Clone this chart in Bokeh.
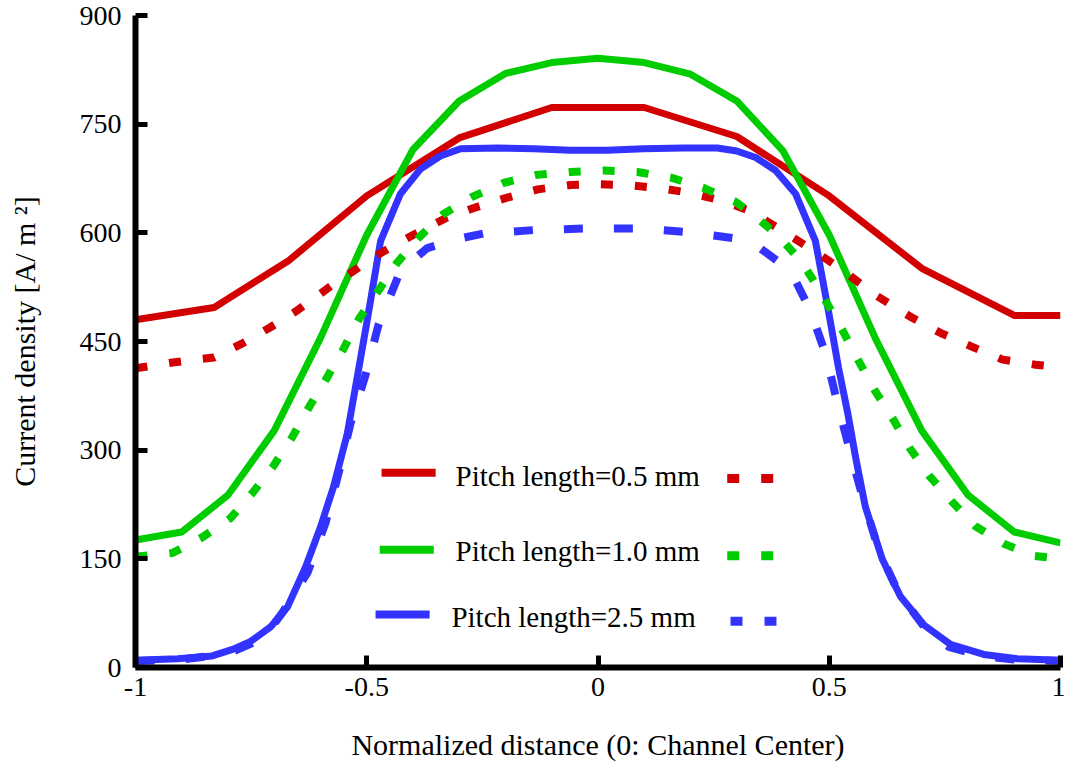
from bokeh.plotting import figure
from bokeh.models import Range1d, FixedTicker, CustomJSTickFormatter
from bokeh.core.properties import value
from bokeh.embed import file_html
from bokeh.resources import INLINE

# ---------------- data ----------------
red_solid_x = [-1.0, -0.83, -0.67, -0.5, -0.3, -0.1, 0.1, 0.3, 0.5, 0.7, 0.9, 1.0]
red_solid_y = [480, 497, 561, 651, 731, 773, 773, 733, 651, 551, 486, 486]

red_dot_x = [-1.0, -0.92, -0.83, -0.77, -0.71, -0.65, -0.57, -0.47, -0.4, -0.33, -0.27,
             -0.2, -0.13, -0.06, 0.0, 0.06, 0.13, 0.2, 0.27, 0.33, 0.4, 0.47, 0.53,
             0.6, 0.676, 0.74, 0.808, 0.875, 0.946, 1.0]
red_dot_y = [413, 421, 428, 447, 469, 493, 530, 572, 597, 620, 634, 648, 660, 666, 667,
             666, 662, 655, 644, 630, 602, 574, 548, 514, 484, 462, 443, 425, 418, 415]

green_solid_x = [-1.0, -0.9, -0.8, -0.7, -0.6, -0.5, -0.4, -0.3, -0.2, -0.1, 0.0,
                 0.1, 0.2, 0.3, 0.4, 0.5, 0.6, 0.7, 0.8, 0.9, 1.0]
green_solid_y = [176, 187, 238, 327, 455, 597, 715, 782, 820, 835, 841,
                 835, 819, 782, 713, 597, 454, 327, 238, 187, 172]

green_dot_x = [-1.0, -0.92, -0.855, -0.795, -0.747, -0.702, -0.661, -0.626, -0.587, -0.55,
               -0.516, -0.475, -0.434, -0.388, -0.334, -0.271, -0.204, -0.133, -0.06, 0.013,
               0.085, 0.159, 0.228, 0.297, 0.33, 0.39, 0.44, 0.48, 0.529, 0.563, 0.598,
               0.637, 0.674, 0.717, 0.764, 0.816, 0.877, 0.944, 1.0]
green_dot_y = [153, 158, 180, 206, 241, 278, 318, 358, 399, 440,
               482, 520, 559, 593, 626, 650, 669, 680, 684, 686,
               684, 676, 662, 643, 628, 596, 560, 520, 465, 424, 383,
               344, 303, 264, 230, 195, 171, 154, 150]

blue_solid_x = [-1.0, -0.909, -0.834, -0.79, -0.751, -0.708, -0.671, -0.632, -0.6, -0.572,
                -0.542, -0.518, -0.498, -0.47, -0.427, -0.384, -0.341, -0.297, -0.217, -0.139,
                -0.06, 0.02, 0.098, 0.185, 0.258, 0.3, 0.341, 0.384, 0.427, 0.47, 0.498,
                0.52, 0.54, 0.557, 0.578, 0.615, 0.654, 0.704, 0.762, 0.834, 0.907, 1.0]
blue_solid_y = [10, 12, 16, 25, 36, 56, 84, 139, 194, 249,
                323, 410, 483, 589, 654, 688, 706, 716, 717, 716,
                714, 714, 716, 717, 717, 713, 704, 686, 654, 589, 493,
                414, 351, 290, 222, 149, 98, 59, 32, 18, 12, 10]

blue_dash_x = [-1.0, -0.9, -0.8, -0.75, -0.71, -0.682, -0.628, -0.589, -0.561, -0.535,
               -0.503, -0.475, -0.427, -0.369, -0.3, -0.248, -0.135, -0.023, 0.085, 0.196,
               0.3, 0.35, 0.416, 0.459, 0.492, 0.518, 0.546, 0.574, 0.607, 0.65, 0.715,
               0.76, 0.83, 0.9, 1.0]
blue_dash_y = [9, 11, 19, 33, 52, 76, 131, 200, 268, 337,
               403, 472, 548, 579, 592, 599, 604, 606, 606, 601,
               592, 579, 548, 493, 433, 364, 296, 231, 162, 103, 48,
               28, 16, 11, 9]

legend_labels = ["Pitch length=0.5 mm", "Pitch length=1.0 mm", "Pitch length=2.5 mm"]
x_ticks = [-1, -0.5, 0, 0.5, 1]
y_ticks = [0, 150, 300, 450, 600, 750, 900]

RED = "#D20000"
GREEN = "#00CC00"
BLUE = "#3333FF"
FONT = "Liberation Serif"

p = figure(width=1065, height=763, x_range=Range1d(-1, 1), y_range=Range1d(0, 900),
           output_backend="svg", toolbar_location=None,
           min_border_left=135, min_border_right=5, min_border_top=15, min_border_bottom=95)
p.outline_line_color = None
p.xgrid.visible = False
p.ygrid.visible = False
p.background_fill_color = "white"

for ax in (p.xaxis[0], p.yaxis[0]):
    ax.axis_line_width = 6
    ax.axis_line_color = "black"
    ax.major_tick_line_width = 5
    ax.major_tick_line_color = "black"
    ax.major_tick_in = 12
    ax.major_tick_out = 0
    ax.minor_tick_line_color = None
    ax.major_label_text_font = FONT
    ax.major_label_text_font_size = "28px"
    ax.major_label_text_color = "black"
    ax.axis_label_text_font = FONT
    ax.axis_label_text_font_size = "30px"
    ax.axis_label_text_font_style = "normal"
    ax.axis_label_text_color = "black"

p.xaxis.ticker = FixedTicker(ticks=x_ticks)
p.xaxis.formatter = CustomJSTickFormatter(code="return tick.toString();")
p.yaxis.ticker = FixedTicker(ticks=y_ticks)
p.xaxis.axis_label = "Normalized distance (0: Channel Center)"
p.yaxis.axis_label = "Current density [A/ m \u00b2]"
p.xaxis.major_label_standoff = 10
p.xaxis.axis_label_standoff = 29
p.yaxis.major_label_standoff = 14
p.yaxis.axis_label_standoff = 36

# solid curves
p.line(red_solid_x, red_solid_y, line_color=RED, line_width=7)
p.line(green_solid_x, green_solid_y, line_color=GREEN, line_width=7)
p.line(blue_solid_x, blue_solid_y, line_color=BLUE, line_width=7)
# dotted / dashed curves
p.line(red_dot_x, red_dot_y, line_color=RED, line_width=8, line_dash="12 22", line_cap="butt")
p.line(green_dot_x, green_dot_y, line_color=GREEN, line_width=8, line_dash="12 22", line_cap="butt")
p.line(blue_dash_x, blue_dash_y, line_color=BLUE, line_width=8, line_dash="19 31", line_cap="butt")

# manual legend (positions in data coordinates)
colors = [RED, GREEN, BLUE]
leg_line_x0 = [-0.468, -0.472, -0.481]
leg_line_x1 = [-0.351, -0.355, -0.364]
leg_line_y = [268.8, 162.6, 73.0]
leg_text_x = [-0.308, -0.308, -0.317]
leg_text_y = [264, 161, 70]
leg_dot_x0 = [0.2794, 0.2794, 0.2865]
leg_dot_x1 = [0.3789, 0.3789, 0.3859]
leg_dot_y = [261, 154.4, 63.8]
for i in range(3):
    p.line([leg_line_x0[i], leg_line_x1[i]], [leg_line_y[i], leg_line_y[i]],
           line_color=colors[i], line_width=8, line_cap="butt")
    p.line([leg_dot_x0[i], leg_dot_x1[i]], [leg_dot_y[i], leg_dot_y[i]],
           line_color=colors[i], line_width=9, line_dash="12 22", line_cap="butt")
    p.text(x=[leg_text_x[i]], y=[leg_text_y[i]], text=[legend_labels[i]],
           text_font=value(FONT), text_font_size="29px", text_color="black",
           text_align="left", text_baseline="alphabetic")

open("out.html", "w").write(file_html(p, INLINE))
